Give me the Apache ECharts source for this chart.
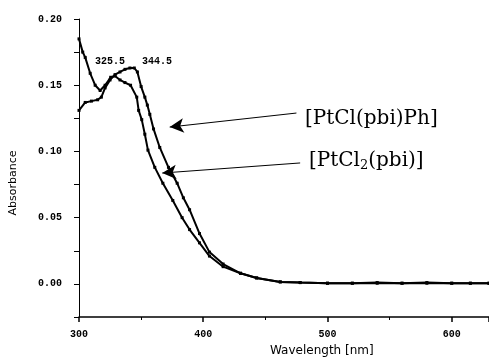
<!DOCTYPE html>
<html>
<head>
<meta charset="utf-8">
<script src="https://cdn.jsdelivr.net/npm/echarts@6/dist/echarts.min.js"></script>
<style>
  html, body { margin: 0; padding: 0; background: #fff; }
  #chart { width: 489px; height: 361px; }
</style>
</head>
<body>
<div id="chart"></div>
<script>
// [PtCl(pbi)Ph] - peak near 344.5 nm
const wlA = [300, 305, 310, 315, 318, 321, 325, 329, 333, 337, 341, 344.5, 347, 350, 353, 355, 357, 360, 365, 372, 379, 384, 389, 397, 405, 416, 430, 443, 462, 478, 500, 520, 540, 560, 580, 600, 615, 630];
const absA = [0.131, 0.137, 0.138, 0.139, 0.141, 0.148, 0.154, 0.158, 0.160, 0.162, 0.163, 0.163, 0.160, 0.149, 0.141, 0.135, 0.128, 0.117, 0.103, 0.088, 0.076, 0.065, 0.056, 0.038, 0.024, 0.015, 0.008, 0.0045, 0.0015, 0.001, 0.0005, 0.0005, 0.001, 0.0005, 0.0005, 0.0005, 0.0005, 0.0005];

// [PtCl2(pbi)] - peak near 325.5 nm
const wlB = [300, 303, 305, 309, 313, 317, 321, 325.5, 329, 333, 337, 341.5, 346.5, 348, 350.5, 353, 355.5, 361, 367.5, 375.5, 383, 389, 397, 405, 416, 430, 443, 462, 478, 500, 520, 540, 560, 580, 600, 615, 630];
const absB = [0.185, 0.175, 0.171, 0.159, 0.150, 0.146, 0.150, 0.156, 0.157, 0.154, 0.152, 0.150, 0.141, 0.131, 0.124, 0.113, 0.101, 0.088, 0.076, 0.063, 0.050, 0.041, 0.031, 0.021, 0.013, 0.008, 0.0045, 0.0015, 0.001, 0.0005, 0.0005, 0.0005, 0.0005, 0.001, 0.0005, 0.0005, 0.0005];

const xLabelTicks = [300, 400, 500, 600];
const yLabelTicks = [0, 0.05, 0.10, 0.15, 0.20];
const yAllTicks = [-0.025, 0, 0.025, 0.05, 0.075, 0.10, 0.125, 0.15, 0.175, 0.20];
const yBottom = -0.025;
const peakLabels = ['325.5', '344.5'];
const compoundLabels = ['[PtCl(pbi)Ph]', '[PtCl{s|2}(pbi)]'];

// arrows: [tail, tip] in data coords
const arrowA = [[475, 0.129], [373, 0.1184]];
const arrowB = [[478, 0.0913], [367, 0.0837]];

const chart = echarts.init(document.getElementById('chart'));

const tickFont = () => ({ fontFamily: 'Liberation Mono', fontWeight: 'bold', fontSize: 10, color: '#000' });

const arrowLine = (a) => ({
  silent: true,
  symbol: ['none', 'arrow'],
  symbolSize: [11, 14],
  lineStyle: { color: '#000', width: 1, type: 'solid' },
  label: { show: false },
  data: [[{ coord: a[0] }, { coord: a[1] }]]
});

const option = {
  animation: false,
  grid: { left: 79, right: 0, top: 19, bottom: 44, outerBoundsMode: 'none' },
  xAxis: {
    type: 'value',
    min: 300,
    max: 630,
    interval: 100,
    axisLine: { show: true, onZero: false, lineStyle: { color: '#000', width: 1.5 } },
    axisTick: { show: true, length: 5, lineStyle: { color: '#000', width: 1.5 } },
    minorTick: { show: true, splitNumber: 2, length: 3, lineStyle: { color: '#000', width: 1 } },
    axisLabel: Object.assign({ margin: 12, customValues: xLabelTicks }, tickFont()),
    splitLine: { show: false }
  },
  yAxis: {
    type: 'value',
    min: -0.025,
    max: 0.20,
    name: 'Absorbance',
    nameLocation: 'middle',
    nameGap: 60,
    nameTextStyle: { fontFamily: 'DejaVu Sans', fontSize: 11, color: '#000', padding: [0, 30, 0, 0] },
    axisLine: { show: true, onZero: false, lineStyle: { color: '#000', width: 1 } },
    axisTick: { show: true, length: 5, customValues: yAllTicks, lineStyle: { color: '#000', width: 1 } },
    axisLabel: Object.assign({
      margin: 17,
      customValues: yLabelTicks,
      formatter: v => v.toFixed(2)
    }, tickFont()),
    splitLine: { show: false }
  },
  series: [
    {
      name: '[PtCl(pbi)Ph]',
      type: 'line',
      data: wlA.map((w, i) => [w, absA[i]]),
      symbol: 'rect',
      symbolSize: 3,
      itemStyle: { color: '#000' },
      lineStyle: { color: '#000', width: 2 },
      markLine: arrowLine(arrowA)
    },
    {
      name: '[PtCl2(pbi)]',
      type: 'line',
      data: wlB.map((w, i) => [w, absB[i]]),
      symbol: 'rect',
      symbolSize: 3,
      itemStyle: { color: '#000' },
      lineStyle: { color: '#000', width: 2 },
      markLine: arrowLine(arrowB)
    },
    {
      // bottom frame line along the x axis
      type: 'line',
      data: [],
      silent: true,
      markLine: {
        silent: true,
        symbol: ['none', 'none'],
        lineStyle: { color: '#000', width: 1, type: 'solid' },
        label: { show: false },
        data: [{ yAxis: yBottom }]
      }
    }
  ],
  graphic: [
    { type: 'text', left: 95, top: 56, style: { text: peakLabels[0], font: 'bold 10px "Liberation Mono"', fill: '#000' } },
    { type: 'text', left: 142, top: 56, style: { text: peakLabels[1], font: 'bold 10px "Liberation Mono"', fill: '#000' } },
    { type: 'text', left: 305, top: 109, style: { text: compoundLabels[0], font: '20px "DejaVu Serif"', fill: '#000' } },
    {
      type: 'text', left: 309, top: 151,
      style: {
        text: compoundLabels[1],
        font: '20px "DejaVu Serif"',
        fill: '#000',
        rich: { s: { fontFamily: 'DejaVu Serif', fontSize: 13, verticalAlign: 'bottom', padding: [9, 0, 0, 0] } }
      }
    },
    { type: 'text', left: 270, top: 345, style: { text: 'Wavelength [nm]', font: '12px "DejaVu Sans"', fill: '#000' } }
  ]
};

chart.setOption(option);
</script>
</body>
</html>
